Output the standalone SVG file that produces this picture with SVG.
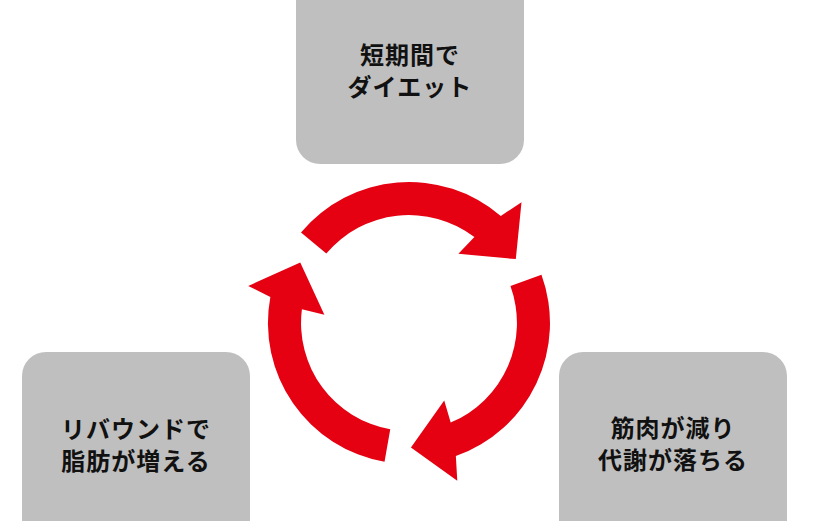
<svg xmlns="http://www.w3.org/2000/svg" width="830" height="521" viewBox="0 0 830 521">
  <defs>
    <style>
      .box { fill: #bfbfbf; }
      .lbl { font-family: "Noto Sans CJK JP", "Noto Sans", sans-serif; font-weight: bold; font-size: 24px; fill: #111111; text-anchor: middle; letter-spacing: 1px; }
      .arrow { fill: #e50012; }
    </style>
    <path id="cycArrow" class="arrow" d="M 301.0 232.4 A 141 141 0 0 1 500.8 215.9 L 521.5 202.3 L 515.8 259.1 L 458.4 253.8 L 474.4 237.1 A 108 108 0 0 0 326.3 253.6 Z"/>
  </defs>
  <rect width="830" height="521" fill="#ffffff"/>

  <g id="connectors">
    <use href="#cycArrow"/>
    <use href="#cycArrow" transform="rotate(120 409 323)"/>
    <use href="#cycArrow" transform="rotate(240 409 323)"/>
  </g>

  <g id="node-diet">
    <rect class="box" x="296" y="-30" width="228" height="194" rx="24" ry="24"/>
    <text class="lbl" x="410" y="64">短期間で</text>
    <text class="lbl" x="410" y="96">ダイエット</text>
  </g>

  <g id="node-muscle">
    <rect class="box" x="559" y="352" width="228" height="194" rx="24" ry="24"/>
    <text class="lbl" x="673" y="437">筋肉が減り</text>
    <text class="lbl" x="673" y="469">代謝が落ちる</text>
  </g>

  <g id="node-rebound">
    <rect class="box" x="22" y="352" width="228" height="194" rx="24" ry="24"/>
    <text class="lbl" x="136" y="438">リバウンドで</text>
    <text class="lbl" x="136" y="470">脂肪が増える</text>
  </g>
</svg>
